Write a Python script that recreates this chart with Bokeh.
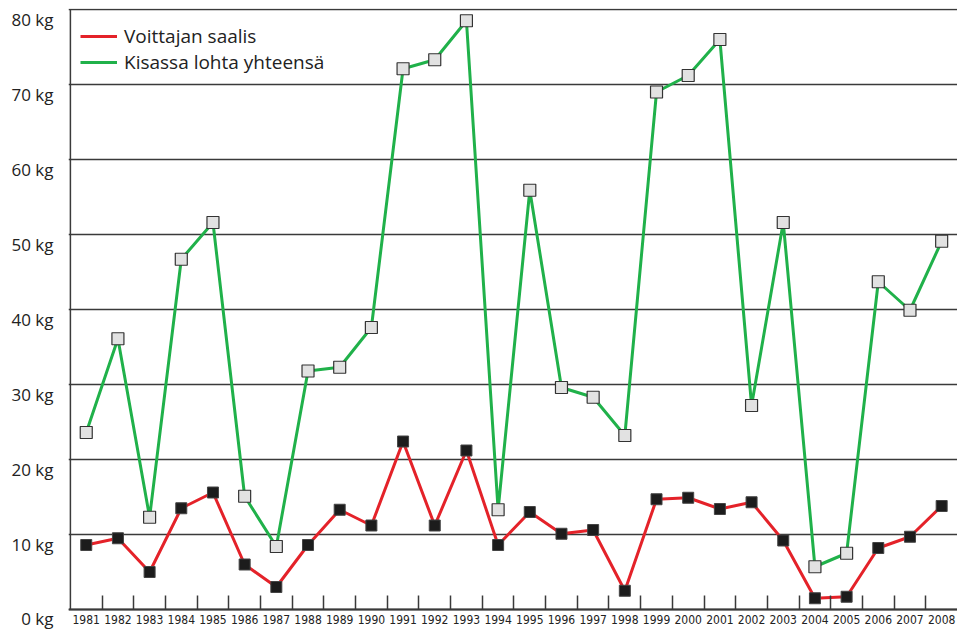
from bokeh.plotting import figure
from bokeh.models import FixedTicker, Range1d, Legend, LegendItem, LinearAxis, PrintfTickFormatter
from bokeh.embed import file_html
from bokeh.resources import INLINE

years = list(range(1981, 2009))
winner = [8.6, 9.5, 5.0, 13.5, 15.6, 6.0, 3.0, 8.6, 13.3, 11.2, 22.4, 11.2, 21.2, 8.6,
          13.0, 10.1, 10.6, 2.5, 14.7, 14.9, 13.4, 14.3, 9.2, 1.5, 1.7, 8.2, 9.7, 13.8]
total = [23.6, 36.1, 12.3, 46.7, 51.6, 15.1, 8.4, 31.8, 32.3, 37.6, 72.1, 73.3, 78.5, 13.3,
         55.9, 29.6, 28.3, 23.2, 69.0, 71.2, 76.0, 27.2, 51.6, 5.7, 7.5, 43.7, 39.9, 49.1]
y_ticks = [0, 10, 20, 30, 40, 50, 60, 70, 80]
series_names = ["Voittajan saalis", "Kisassa lohta yhteensä"]

RED = "#e42229"
GREEN = "#20b14a"
DARK = "#3a3a3a"

# layout constants (pixels)
W, H = 957, 629
TOP = 8
LEFT = 68
PX_PER_KG = 7.5
ZERO_PX = 609            # page y of the 0 kg line
LABEL_SHIFT_PX = 10      # y tick labels sit below their grid lines

y_start = -(H - ZERO_PX) / PX_PER_KG
y_end = (ZERO_PX - TOP) / PX_PER_KG
shift = LABEL_SHIFT_PX / PX_PER_KG

p = figure(width=W, height=H, output_backend="svg", toolbar_location=None,
           x_range=Range1d(years[0] - 0.56, years[-1] + 0.5),
           y_range=Range1d(y_start, y_end),
           y_axis_location=None,
           min_border_left=LEFT, min_border_right=0, min_border_top=TOP, min_border_bottom=0)
p.outline_line_color = None
p.background_fill_color = "white"

# horizontal grid
p.xgrid.visible = False
p.ygrid.ticker = FixedTicker(ticks=y_ticks)
p.ygrid.grid_line_color = DARK
p.ygrid.grid_line_width = 1.5

# y axis labels ("NN kg"), placed slightly below their grid lines
p.extra_y_ranges = {"lab": Range1d(y_start + shift, y_end + shift)}
yax = LinearAxis(y_range_name="lab", ticker=FixedTicker(ticks=y_ticks),
                 formatter=PrintfTickFormatter(format="%d kg"))
yax.axis_line_color = None
yax.major_tick_line_color = None
yax.minor_tick_line_color = None
yax.major_tick_out = 0
yax.major_label_standoff = 15
yax.major_label_text_font = "Open Sans"
yax.major_label_text_font_size = "17px"
yax.major_label_text_color = "#222222"
p.add_layout(yax, "left")

# left axis line
p.segment(x0=years[0] - 0.5, y0=y_ticks[0], x1=years[0] - 0.5, y1=y_ticks[-1],
          line_color=DARK, line_width=1.5)

# x axis at 0 kg: year labels, boundary ticks pointing inward
bounds = [y + 0.5 for y in years[:-1]]
xax = p.xaxis[0]
xax.fixed_location = 0
xax.ticker = FixedTicker(ticks=years, minor_ticks=bounds)
xax.major_tick_line_color = None
xax.major_tick_out = 0
xax.major_tick_in = 0
xax.minor_tick_in = 14
xax.minor_tick_out = 0
xax.minor_tick_line_color = DARK
xax.minor_tick_line_width = 1.5
xax.axis_line_color = DARK
xax.axis_line_width = 2
xax.major_label_text_font = "DejaVu Sans Condensed"
xax.major_label_text_font_size = "12px"
xax.major_label_text_color = "#222222"
xax.major_label_standoff = 5

# series
l1 = p.line(years, winner, line_color=RED, line_width=3)
p.scatter(years, winner, marker="square", size=11, fill_color="#1c1c1c", line_color="#444444", line_width=1)
l2 = p.line(years, total, line_color=GREEN, line_width=3)
p.scatter(years, total, marker="square", size=12, fill_color="#e2e2e2", line_color="#333333", line_width=1.2)

legend = Legend(items=[LegendItem(label=series_names[0], renderers=[l1]),
                       LegendItem(label=series_names[1], renderers=[l2])],
                location="top_left", margin=0, padding=0, spacing=0,
                glyph_width=37, glyph_height=26, label_height=26, label_standoff=7,
                label_text_font="Open Sans", label_text_font_size="19px",
                label_text_color="#222222",
                border_line_color=None, background_fill_alpha=0)
legend.location = (12, (ZERO_PX - TOP) + (H - ZERO_PX) - 15 - 52)
p.add_layout(legend)

open("out.html", "w").write(file_html(p, INLINE))
